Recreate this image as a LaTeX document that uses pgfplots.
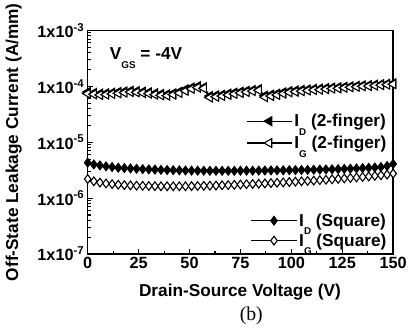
\documentclass[border=0pt]{standalone}
\usepackage{pgfplots}
\pgfplotsset{compat=1.18}
\usepackage{pgfplotstable}
\usepackage{fontspec}
\setmainfont{Liberation Sans}
\newfontfamily\seriffont{Liberation Serif}
\usetikzlibrary{calc}
\newcommand\sub[1]{\raisebox{-0.5em}{\fontsize{10}{10}\selectfont #1}}

\pgfplotstableread{
V    IDf      IGf      IDs      IGs
0    7.9e-5   7.4e-5   4.3e-6   2.2e-6
3    7.6e-5   7.2e-5   4.0e-6   2.0e-6
6    7.4e-5   7.0e-5   3.85e-6  1.9e-6
9    7.5e-5   7.1e-5   3.7e-6   1.83e-6
12   7.7e-5   7.3e-5   3.6e-6   1.78e-6
15   7.9e-5   7.5e-5   3.5e-6   1.74e-6
18   8.1e-5   7.7e-5   3.45e-6  1.71e-6
21   8.3e-5   7.9e-5   3.4e-6   1.69e-6
24   8.2e-5   7.8e-5   3.35e-6  1.67e-6
27   8.0e-5   7.6e-5   3.3e-6   1.66e-6
30   7.8e-5   7.4e-5   3.27e-6  1.65e-6
33   7.5e-5   7.1e-5   3.24e-6  1.64e-6
36   7.3e-5   6.9e-5   3.2e-6   1.63e-6
39   7.2e-5   6.8e-5   3.18e-6  1.63e-6
42   7.5e-5   7.1e-5   3.16e-6  1.63e-6
45   8.0e-5   7.6e-5   3.14e-6  1.63e-6
48   8.8e-5   8.3e-5   3.12e-6  1.63e-6
51   9.5e-5   9.0e-5   3.1e-6   1.64e-6
54   1.0e-4   9.5e-5   3.1e-6   1.65e-6
57   9.6e-5   9.2e-5   3.09e-6  1.66e-6
60   6.7e-5   6.3e-5   3.08e-6  1.67e-6
63   6.9e-5   6.5e-5   3.08e-6  1.68e-6
66   7.1e-5   6.7e-5   3.08e-6  1.7e-6
69   7.4e-5   7.0e-5   3.08e-6  1.71e-6
72   7.7e-5   7.3e-5   3.08e-6  1.73e-6
75   8.0e-5   7.6e-5   3.09e-6  1.75e-6
78   8.3e-5   7.9e-5   3.1e-6   1.77e-6
81   8.6e-5   8.2e-5   3.1e-6   1.79e-6
84   8.9e-5   8.5e-5   3.11e-6  1.81e-6
87   6.8e-5   6.4e-5   3.12e-6  1.83e-6
90   7.1e-5   6.7e-5   3.13e-6  1.86e-6
93   7.4e-5   7.0e-5   3.14e-6  1.88e-6
96   7.8e-5   7.4e-5   3.15e-6  1.91e-6
99   8.2e-5   7.8e-5   3.16e-6  1.94e-6
102  8.4e-5   8.0e-5   3.17e-6  1.97e-6
105  8.6e-5   8.2e-5   3.18e-6  2.0e-6
108  8.8e-5   8.4e-5   3.2e-6   2.03e-6
111  9.0e-5   8.6e-5   3.22e-6  2.06e-6
114  9.1e-5   8.7e-5   3.24e-6  2.1e-6
117  9.3e-5   8.9e-5   3.26e-6  2.13e-6
120  9.5e-5   9.1e-5   3.28e-6  2.17e-6
123  9.6e-5   9.2e-5   3.3e-6   2.21e-6
126  9.8e-5   9.4e-5   3.33e-6  2.25e-6
129  1.0e-4   9.6e-5   3.36e-6  2.29e-6
132  1.02e-4  9.8e-5   3.4e-6   2.34e-6
135  1.04e-4  1.0e-4   3.44e-6  2.39e-6
138  1.05e-4  1.01e-4  3.48e-6  2.44e-6
141  1.07e-4  1.03e-4  3.53e-6  2.5e-6
144  1.09e-4  1.05e-4  3.6e-6   2.56e-6
147  1.11e-4  1.07e-4  3.75e-6  2.63e-6
150  1.13e-4  1.09e-4  4.1e-6   2.75e-6
}\data

\tikzset{
  mytri/.style={black, line width=1.2pt, mark size=5.2pt},
  mydia/.style={black, line width=1.2pt, mark size=4.4pt},
}

\begin{document}
\begin{tikzpicture}[font=\fontsize{17.5}{21}\selectfont\bfseries]
\begin{semilogyaxis}[
    width=310pt, height=227pt, scale only axis,
    xmin=0, xmax=150, ymin=1e-7, ymax=1e-3,
    axis line style={line width=1.6pt},
    tick align=inside, tick pos=left,
    major tick length=5pt, minor tick length=3pt,
    every tick/.style={line width=1.1pt, black},
    xtick={0,25,50,75,100,125,150},
    xticklabels={0,25,50,75,100,125,150},
    minor x tick num=1,
    ytick={1e-7,1e-6,1e-5,1e-4,1e-3},
    yticklabels={1x10\textsuperscript{-7},1x10\textsuperscript{-6},1x10\textsuperscript{-5},1x10\textsuperscript{-4},1x10\textsuperscript{-3}},
    ticklabel style={font=\fontsize{16.5}{19}\selectfont\bfseries},
    clip=false,
    legend cell align=left,
    legend style={draw=none, fill=none, inner sep=0pt, row sep=4pt,
      font=\fontsize{17.5}{21}\selectfont\bfseries,
      at={(0.985,0.635)}, anchor=north east},
    legend image code/.code={
      \draw[mark repeat=2, mark phase=2] plot coordinates {(0pt,0pt) (23pt,0pt) (46pt,0pt)};
    },
  ]
  \addplot[mytri, mark=triangle*, mark options={rotate=90, fill=black, solid, line width=1.1pt}] table[x=V, y=IDf] {\data};
  \addlegendentry{I\sub{D} (2-finger)}
  \addplot[mytri, mark=triangle*, mark options={rotate=90, fill=white, solid, line width=1.1pt}] table[x=V, y=IGf] {\data};
  \addlegendentry{I\sub{G} (2-finger)}
\end{semilogyaxis}
\begin{semilogyaxis}[
    width=310pt, height=227pt, scale only axis,
    xmin=0, xmax=150, ymin=1e-7, ymax=1e-3,
    hide axis, clip=false,
    legend cell align=left,
    legend style={draw=none, fill=none, inner sep=0pt, row sep=2pt,
      font=\fontsize{17.5}{21}\selectfont\bfseries,
      at={(0.985,0.19)}, anchor=north east},
    legend image code/.code={
      \draw[mark repeat=2, mark phase=2] plot coordinates {(0pt,0pt) (23pt,0pt) (46pt,0pt)};
    },
  ]
  \addplot[mydia, mark=diamond*, mark options={fill=black, solid, line width=1.1pt}] table[x=V, y=IDs] {\data};
  \addlegendentry{I\sub{D} (Square)}
  \addplot[mydia, mark=diamond*, mark options={fill=white, solid, line width=1.1pt}] table[x=V, y=IGs] {\data};
  \addlegendentry{I\sub{G} (Square)}
\end{semilogyaxis}
\coordinate (O) at (current axis.south west);
\path ($(O)+(-89pt,-79pt)$) rectangle ++(410pt,336pt);
\node[anchor=base west] at ($(O)+(19pt,197pt)$) {V\sub{GS} = -4V};
\node at ($(O)+(154.5pt,-39pt)$) {Drain-Source Voltage (V)};
\node[rotate=90] at ($(O)+(-75pt,113.5pt)$) {Off-State Leakage Current (A/mm)};
\node[font=\seriffont\fontsize{20}{24}\selectfont] at ($(O)+(166pt,-63pt)$) {(b)};
\end{tikzpicture}
\end{document}
